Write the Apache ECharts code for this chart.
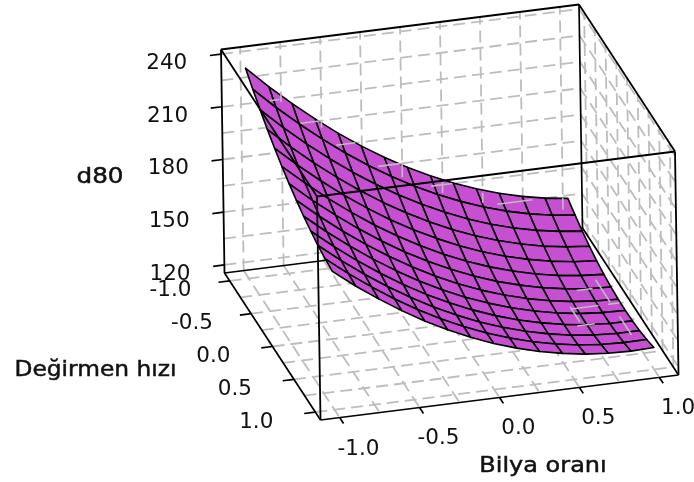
<!DOCTYPE html>
<html><head><meta charset="utf-8"><style>html,body{margin:0;background:#fff}#c{width:694px;height:482px}</style>
<script src="https://cdn.jsdelivr.net/npm/echarts@6/dist/echarts.min.js"></script></head><body><div id="c"></div>
<script>
const xValues=[-1,-0.857,-0.714,-0.571,-0.429,-0.286,-0.143,0,0.143,0.286,0.429,0.571,0.714,0.857,1];
const yValues=[-1,-0.833,-0.667,-0.5,-0.333,-0.167,0,0.167,0.333,0.5,0.667,0.833,1];
const zRow00=[235.1,223.0,211.8,201.3,191.6,182.7,174.6,167.3,160.8,155.0,150.1,145.9,142.5,139.9,138.1];
const zRow01=[229.2,217.3,206.3,196.0,186.5,177.8,169.9,162.7,156.4,150.8,146.0,142.0,138.8,136.4,134.8];
const zRow02=[223.8,212.1,201.2,191.1,181.8,173.3,165.5,158.6,152.4,147.0,142.4,138.6,135.6,133.4,131.9];
const zRow03=[218.8,207.3,196.6,186.7,177.6,169.2,161.7,154.9,148.9,143.7,139.3,135.7,132.8,130.8,129.5];
const zRow04=[214.3,203.0,192.5,182.7,173.8,165.6,158.3,151.7,145.9,140.8,136.6,133.2,130.5,128.6,127.5];
const zRow05=[210.2,199.1,188.7,179.2,170.4,162.5,155.3,148.9,143.2,138.4,134.4,131.1,128.6,126.9,126.0];
const zRow06=[206.6,195.6,185.5,176.1,167.5,159.7,152.7,146.5,141.1,136.4,132.6,129.5,127.2,125.7,125.0];
const zRow07=[203.4,192.6,182.6,173.5,165.1,157.5,150.6,144.6,139.3,134.9,131.2,128.3,126.2,124.9,124.3];
const zRow08=[200.6,190.0,180.3,171.3,163.1,155.6,149.0,143.1,138.1,133.8,130.3,127.6,125.6,124.5,124.1];
const zRow09=[198.3,187.9,178.3,169.5,161.5,154.2,147.8,142.1,137.2,133.1,129.8,127.3,125.5,124.6,124.4];
const zRow10=[196.4,186.2,176.8,168.2,160.4,153.3,147.0,141.5,136.8,132.9,129.8,127.4,125.9,125.1,125.1];
const zRow11=[195.0,185.0,175.8,167.3,159.7,152.8,146.7,141.4,136.9,133.1,130.2,128.0,126.7,126.1,126.3];
const zRow12=[194.1,184.2,175.2,166.9,159.4,152.7,146.8,141.7,137.4,133.8,131.1,129.1,127.9,127.5,127.9];
const zValues=[zRow00,zRow01,zRow02,zRow03,zRow04,zRow05,zRow06,zRow07,zRow08,zRow09,zRow10,zRow11,zRow12];
const xTicks=[-1,-0.5,0,0.5,1], yTicks=[-1,-0.5,0,0.5,1], zTicks=[120,150,180,210,240];
const xGrid=[-1,-0.75,-0.5,-0.25,0,0.25,0.5,0.75,1], yGrid=[-1,-0.75,-0.5,-0.25,0,0.25,0.5,0.75,1], zGrid=[120,135,150,165,180,195,210,225,240];
const R=1.12,zMin=115.4,zMax=242.6;
// grid fragments that show on top of the surface in the picture: x1,y1,z1,x2,y2,z2
const backWallBits=[[-0.75,-R,213.6,-0.75,-R,208.5],[-0.5,-R,195.4,-0.5,-R,191],[0,-R,165.2,0,-R,157.2],[0.25,-R,151.5,0.25,-R,145.3],[0.5,-R,142.5,0.5,-R,136.8],[1,-R,133.8,1,-R,127.1],
 [-0.82,-R,210,-0.76,-R,210],[-0.63,-R,195,-0.5,-R,195],[-0.41,-R,180,-0.29,-R,180],[-0.15,-R,165,0,-R,165],[0.18,-R,150,0.31,-R,150],[0.59,-R,135,0.81,-R,135]];
const floorBits=[[1,-0.37,zMin,1,-0.03,zMin],[0.75,-0.03,zMin,0.75,0.2,zMin],[1,0.19,zMin,1,0.47,zMin],[0.85,-0.25,zMin,0.95,-0.25,zMin],[0.75,0,zMin,0.92,0,zMin],[0.98,0,zMin,1.05,0,zMin],[0.72,0.25,zMin,0.83,0.25,zMin]];
const O=[224.5,273],EX=[358,-45],EY=[96,147],EZ=[-3.5,-223.5];
function P(x,y,z){const a=(x+R)/(2*R),b=(y+R)/(2*R),c=(z-zMin)/(zMax-zMin);
 return [O[0]+a*EX[0]+b*EY[0]+c*EZ[0],O[1]+a*EX[1]+b*EY[1]+c*EZ[1]];}
function depth(x,y,z){return -0.37*(x+R)/(2*R)+1.41*(y+R)/(2*R)+(z-zMin)/(zMax-zMin);}
const chart=echarts.init(document.getElementById('c'),null,{renderer:'canvas'});
const gridSeg=[];
xGrid.forEach(x=>{gridSeg.push([x,-R,zMin,x,-R,zMax]);gridSeg.push([x,-R,zMin,x,R,zMin]);});
yGrid.forEach(y=>{gridSeg.push([R,y,zMin,R,y,zMax]);gridSeg.push([-R,y,zMin,R,y,zMin]);});
zGrid.forEach(z=>{gridSeg.push([-R,-R,z,R,-R,z]);gridSeg.push([R,-R,z,R,R,z]);});
const backEdges=[[-R,-R,zMin,R,-R,zMin],[R,-R,zMin,R,R,zMin],[R,-R,zMin,R,-R,zMax],[-R,-R,zMin,-R,R,zMin],[-R,R,zMin,R,R,zMin]];
const frontEdges=[[-R,-R,zMax,R,-R,zMax],[R,-R,zMax,R,R,zMax],[R,R,zMax,-R,R,zMax],[-R,R,zMax,-R,-R,zMax],
 [-R,-R,zMin,-R,-R,zMax],[-R,R,zMin,-R,R,zMax],[R,R,zMin,R,R,zMax]];
const T=0.07,U=0.09;
const tickSeg=[];
zTicks.forEach(z=>tickSeg.push([-R,-R,z,-R-T,-R,z]));
yTicks.forEach(y=>tickSeg.push([-R,y,zMin,-R-T,y,zMin]));
xTicks.forEach(x=>tickSeg.push([x,R,zMin,x,R+U,zMin]));
const labels=[];
zTicks.forEach(z=>labels.push([-1.46,-R,z,String(z),2.5]));
yTicks.forEach(y=>labels.push([-1.49,y,zMin,y.toFixed(1),2.5]));
xTicks.forEach(x=>labels.push([x,1.56,zMin,x.toFixed(1),2.5]));
const cells=[];
for(let j=0;j<yValues.length-1;j++)for(let i=0;i<xValues.length-1;i++){
 const xm=(xValues[i]+xValues[i+1])/2,ym=(yValues[j]+yValues[j+1])/2,zm=(zValues[j][i]+zValues[j][i+1]+zValues[j+1][i]+zValues[j+1][i+1])/4;
 cells.push([i,j,depth(xm,ym,zm)]);}
cells.sort((a,b)=>a[2]-b[2]);
function lineSeries(data,style,z){return {type:'custom',coordinateSystem:'cartesian2d',silent:true,clip:false,z,data,
 renderItem(p,api){const a=P(api.value(0),api.value(1),api.value(2)),b=P(api.value(3),api.value(4),api.value(5));
  const s=api.coord(a),e=api.coord(b);
  return {type:'line',shape:{x1:s[0],y1:s[1],x2:e[0],y2:e[1]},style:Object.assign({fill:null},style)};}};}
const FONT='"DejaVu Sans"';
function title(text,x,y,sx){return {type:'text',x,y,scaleX:sx,style:{text,font:'22px '+FONT,fill:'#111',align:'center',verticalAlign:'middle',stroke:'#111',lineWidth:0.5}};}
chart.setOption({animation:false,
 grid:{left:0,right:0,top:0,bottom:0},
 xAxis:{type:'value',min:0,max:694,show:false},
 yAxis:{type:'value',min:0,max:482,inverse:true,show:false},
 series:[
  lineSeries(gridSeg,{stroke:'#bdbdbd',lineWidth:1.8,lineDash:[12,6]},1),
  lineSeries(backEdges,{stroke:'#000',lineWidth:1.7},2),
  {type:'custom',coordinateSystem:'cartesian2d',silent:true,clip:false,z:3,data:cells,
   renderItem(p,api){const i=api.value(0),j=api.value(1);
    const pts=[[i,j],[i+1,j],[i+1,j+1],[i,j+1]].map(q=>api.coord(P(xValues[q[0]],yValues[q[1]],zValues[q[1]][q[0]])));
    return {type:'polygon',shape:{points:pts},style:{fill:'#c750d2',stroke:'#000',lineWidth:1.6,lineJoin:'round'}};}},
  lineSeries(backWallBits.concat(floorBits),{stroke:'#bdbdbd',lineWidth:1.6},4),
  lineSeries(frontEdges,{stroke:'#000',lineWidth:1.8},5),
  lineSeries(tickSeg,{stroke:'#000',lineWidth:1.7},5),
  {type:'custom',coordinateSystem:'cartesian2d',silent:true,clip:false,z:6,data:labels,
   renderItem(p,api){const c=api.coord(P(api.value(0),api.value(1),api.value(2)));
    return {type:'text',x:c[0],y:c[1]+api.value(4),style:{text:labels[p.dataIndex][3],font:'21.5px '+FONT,fill:'#111',align:'center',verticalAlign:'middle'}};}}
 ],
 graphic:[title('d80',100,177,1.12),title('Değirmen hızı',95.5,370,1.06),title('Bilya oranı',543,466,1.09)]});
</script></body></html>
